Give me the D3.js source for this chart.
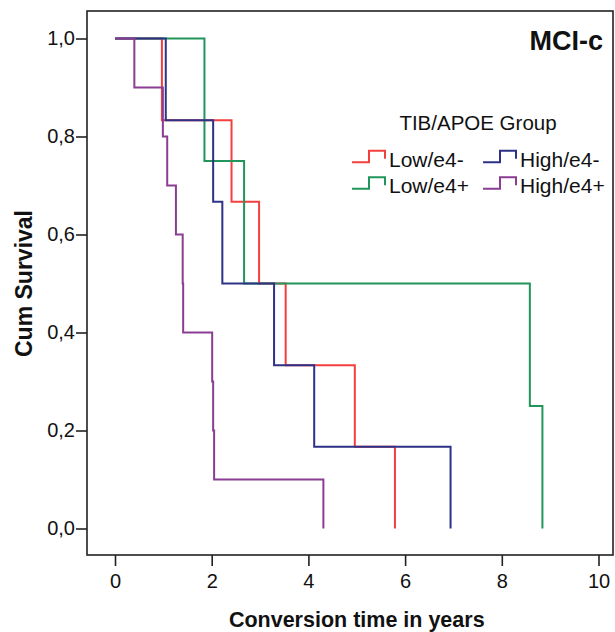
<!DOCTYPE html>
<html>
<head>
<meta charset="utf-8">
<script src="https://cdn.jsdelivr.net/npm/d3@7"></script>
<style>
    body { margin: 0; background: #fff; }
    text { font-family: "Liberation Sans", Arial, sans-serif; fill: #111; }
</style>
</head>
<body>
<div class="km-chart"></div>
<script>
// survival values
const survSix = [1, 0.833, 0.667, 0.5, 0.333, 0.167, 0];
const lowNegTimes = [0, 0.97, 2.41, 2.98, 3.53, 4.96, 5.79];
const highNegTimes = [0, 1.05, 2.03, 2.22, 3.29, 4.12, 6.94];
const lowPosTimes = [0, 1.85, 2.67, 8.58, 8.84];
const lowPosSurv = [1, 0.75, 0.5, 0.25, 0];
const highPosTimes = [0, 0.4, 0.99, 1.08, 1.26, 1.4, 1.41, 2.01, 2.03, 2.05, 4.31];
const highPosSurv = [1, 0.9, 0.8, 0.7, 0.6, 0.5, 0.4, 0.3, 0.2, 0.1, 0];

const groupNames = ["Low/e4-", "High/e4-", "Low/e4+", "High/e4+"];
const groupColors = ["#f2403f", "#2e3286", "#22955a", "#8a3d92"];
const xTicks = [0, 2, 4, 6, 8, 10];
const yTicks = [0, 0.2, 0.4, 0.6, 0.8, 1.0];

const series = [
    { name: groupNames[0], color: groupColors[0], t: lowNegTimes, s: survSix },
    { name: groupNames[2], color: groupColors[2], t: lowPosTimes, s: lowPosSurv },
    { name: groupNames[1], color: groupColors[1], t: highNegTimes, s: survSix },
    { name: groupNames[3], color: groupColors[3], t: highPosTimes, s: highPosSurv }
];

var svg = d3
    .select(".km-chart")
    .append("svg")
    .attr("width", 615)
    .attr("height", 632);

var frame = { left: 87, top: 11, right: 613, bottom: 555 };
var x = d3.scaleLinear().domain([0, 10]).range([115, 598.5]);
var y = d3.scaleLinear().domain([0, 1]).range([528.5, 38.5]);

// plot box
svg.append("rect")
    .attr("x", frame.left)
    .attr("y", frame.top)
    .attr("width", frame.right - frame.left)
    .attr("height", frame.bottom - frame.top)
    .attr("fill", "none")
    .attr("stroke", "#222")
    .attr("stroke-width", 1.6);

// y axis
var yAxis = svg.append("g")
    .attr("transform", `translate(${frame.left},0)`)
    .call(d3.axisLeft(y).tickValues(yTicks).tickSize(11).tickPadding(1)
        .tickFormat((d) => d3.format(".1f")(d).replace(".", ",")));
yAxis.select(".domain").remove();
yAxis.selectAll("line").attr("stroke", "#222").attr("stroke-width", 1.6);
yAxis.selectAll("text").style("font-size", "20px").attr("fill", "#111");

// x axis
var xAxis = svg.append("g")
    .attr("transform", `translate(0,${frame.bottom})`)
    .call(d3.axisBottom(x).tickValues(xTicks).tickSize(11).tickPadding(8));
xAxis.select(".domain").remove();
xAxis.selectAll("line").attr("stroke", "#222").attr("stroke-width", 1.6);
xAxis.selectAll("text").style("font-size", "20px").attr("fill", "#111");

svg.append("text")
    .attr("x", x(5))
    .attr("y", 627)
    .attr("text-anchor", "middle")
    .style("font-size", "21.5px")
    .style("font-weight", "bold")
    .text("Conversion time in years");

svg.append("text")
    .attr("transform", `translate(32,${(y(0) + y(1)) / 2}) rotate(-90)`)
    .attr("text-anchor", "middle")
    .style("font-size", "23px")
    .style("font-weight", "bold")
    .text("Cum Survival");

svg.append("text")
    .attr("x", 603)
    .attr("y", 50)
    .attr("text-anchor", "end")
    .style("font-size", "27px")
    .style("font-weight", "bold")
    .text("MCI-c");

// survival curves
var line = d3.line()
    .x((d) => x(d[0]))
    .y((d) => y(d[1]))
    .curve(d3.curveStepAfter);

svg.selectAll(".curve")
    .data(series)
    .enter()
    .append("path")
    .attr("class", "curve")
    .attr("d", (d) => line(d.t.map((t, i) => [t, d.s[i]])))
    .attr("fill", "none")
    .attr("stroke", (d) => d.color)
    .attr("stroke-width", 2);

// legend
svg.append("text")
    .attr("x", 478)
    .attr("y", 129.5)
    .attr("text-anchor", "middle")
    .style("font-size", "20.5px")
    .text("TIB/APOE Group");

var legendCols = [352, 483];
var legendRows = [166.7, 193.3];
var legend = svg.selectAll(".legend-item")
    .data(groupNames)
    .enter()
    .append("g")
    .attr("class", "legend-item")
    .attr("transform", (d, i) => `translate(${legendCols[i % 2]},${legendRows[Math.floor(i / 2)]})`);

legend.append("path")
    .attr("d", "M0,-4.5H17V-16H33V-8")
    .attr("fill", "none")
    .attr("stroke", (d, i) => groupColors[i])
    .attr("stroke-width", 2);

legend.append("text")
    .attr("x", 37)
    .attr("y", 0)
    .style("font-size", "21px")
    .text((d) => d);
</script>
</body>
</html>
